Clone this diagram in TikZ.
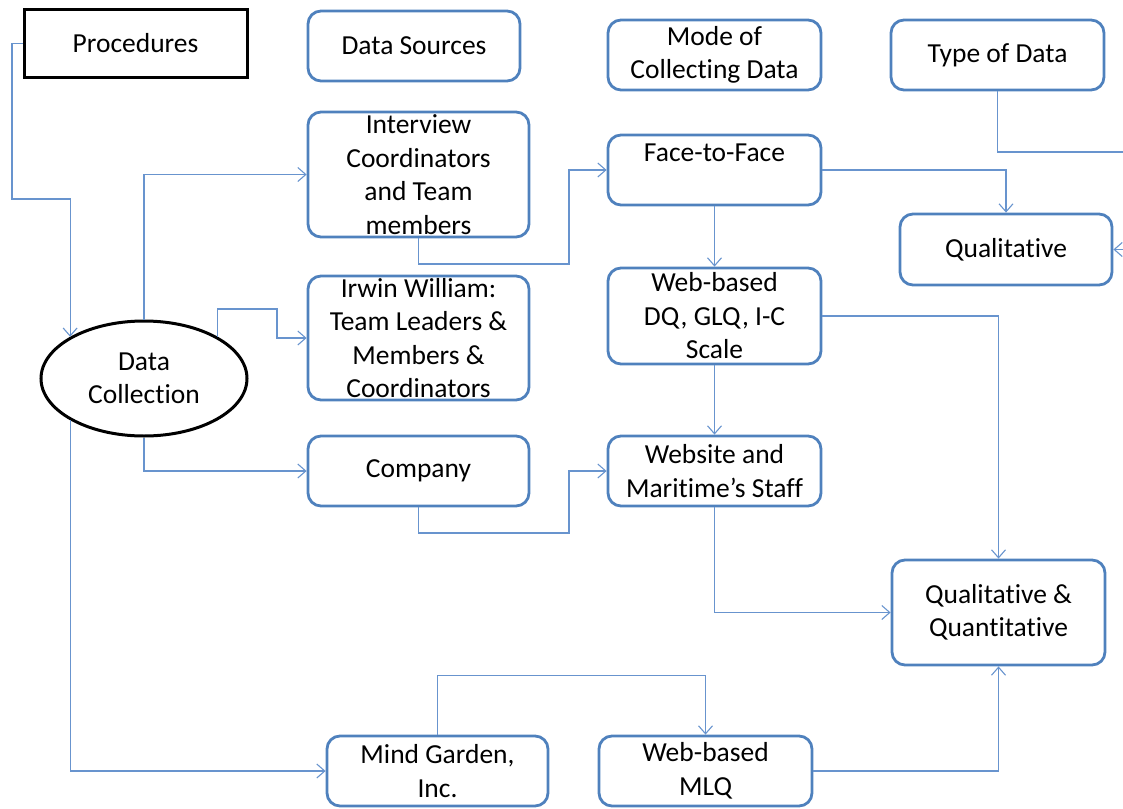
\documentclass[tikz,border=0pt]{standalone}
\usepackage{fontspec}
\setmainfont{Carlito}[RawFeature={-liga;-clig;-calt;-dlig}]
\usetikzlibrary{arrows.meta,shapes.geometric}
\definecolor{boxblue}{RGB}{79,129,189}
\definecolor{linkblue}{RGB}{104,148,206}
\begin{document}
\begin{tikzpicture}[x=1pt,y=-1pt,
  every node/.style={font=\fontsize{27.5}{33.5}\selectfont, align=center, inner sep=0pt},
  rbox/.style={draw=boxblue, line width=2.8pt, rounded corners=13pt},
  sqbox/.style={draw=black, line width=3pt},
  oval/.style={ellipse, draw=black, line width=3pt},
  link/.style={draw=linkblue, line width=1.1pt},
  arr/.style={link, -{Straight Barb[length=8pt,width=14pt,line width=1.1pt]}},
]
\useasboundingbox (0,0) rectangle (1123,808);

% column headers
\node[sqbox, minimum width=223pt, minimum height=67pt] (proc) at (135.5,43.5) {Procedures};
\node[rbox, minimum width=212pt, minimum height=70pt] (src) at (414,46) {Data Sources};
\node[rbox, minimum width=213pt, minimum height=70pt] (mode) at (714.5,55) {Mode of\\Collecting Data};
\node[rbox, minimum width=213pt, minimum height=70pt] (type) at (997.5,55) {Type of Data};

% data collection hub
\node[oval, minimum width=206pt, minimum height=115pt] (dc) at (144,378.5) {Data\\Collection};

% data sources
\node[rbox, minimum width=221pt, minimum height=125pt] (intv) at (418.5,174.5) {Interview\\Coordinators\\and Team\\members};
\node[rbox, minimum width=221pt, minimum height=124pt] (irwin) at (418.5,338) {Irwin William:\\Team Leaders \&\\Members \&\\Coordinators};
\node[rbox, minimum width=221pt, minimum height=70pt] (comp) at (418.5,471) {Company};
\node[rbox, minimum width=221pt, minimum height=70pt] (mind) at (437.5,771) {Mind Garden,\\Inc.};

% modes of collecting
\node[rbox, minimum width=213pt, minimum height=70pt] (ftf) at (714.5,170) {};
\node (ftftext) at (714.5,153) {Face-to-Face};
\node[rbox, minimum width=213pt, minimum height=96pt] (web) at (714.5,316) {Web-based\\DQ, GLQ, I-C\\Scale};
\node[rbox, minimum width=213pt, minimum height=70pt] (site) at (714.5,471) {Website and\\Maritime’s Staff};
\node[rbox, minimum width=213pt, minimum height=70pt] (mlq) at (705.5,771) {Web-based\\MLQ};

% types of data
\node[rbox, minimum width=212pt, minimum height=71pt] (qual) at (1006,249.5) {Qualitative};
\node[rbox, minimum width=213pt, minimum height=105pt] (qq) at (998.5,612.5) {Qualitative \&\\Quantitative};

% loose ends at the right margin
\coordinate (typeout) at (1123,152);
\coordinate (qualin) at (1123,249.5);

% connectors
\draw[arr] (proc.west) -| (12,199) -| (dc.north west);
\draw[arr] (dc.north) |- (intv.west);
\draw[arr] (dc.north east) |- (277,309) |- (irwin.west);
\draw[arr] (dc.south) |- (comp.west);
\draw[arr] (dc.south west) |- (mind.west);

\draw[arr] (intv.south) |- (569,264) |- (ftf.west);
\draw[arr] (ftf.east) -| (qual.north);
\draw[arr] (ftf.south) -- (web.north);
\draw[link] (type.south) |- (typeout);
\draw[arr] (qualin) -- (qual.east);

\draw[arr] (web.east) -| (qq.north);
\draw[arr] (web.south) -- (site.north);
\draw[arr] (comp.south) |- (569,533) |- (site.west);
\draw[arr] (site.south) |- (qq.west);

\draw[arr] (mind.north) -- ++(0,-59) -| (mlq.north);
\draw[arr] (mlq.east) -| (qq.south);
\end{tikzpicture}
\end{document}
